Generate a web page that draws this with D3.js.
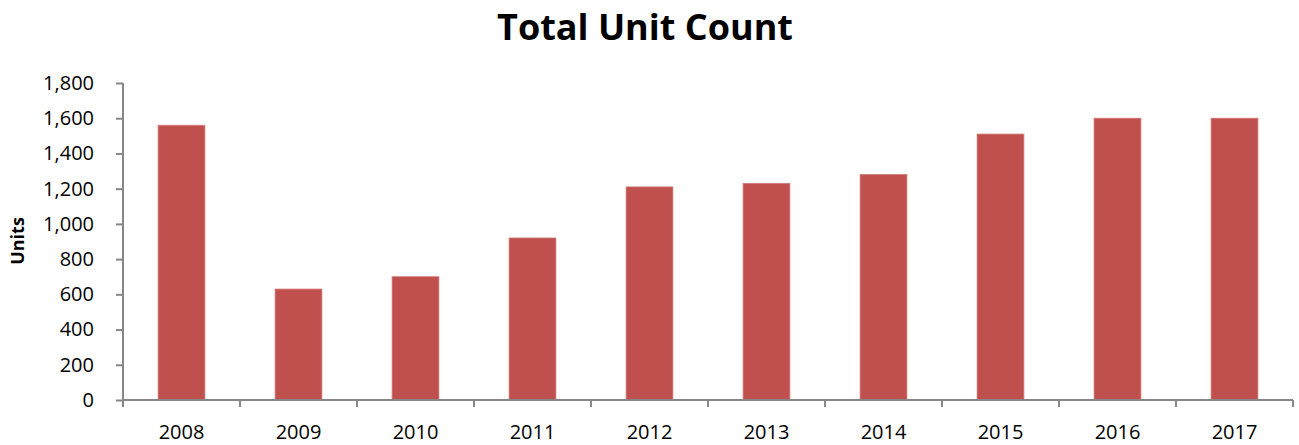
<!DOCTYPE html>
<html>
<head>
<meta charset="utf-8">
<script src="https://cdn.jsdelivr.net/npm/d3@7"></script>
<style>
  body { margin: 0; background: #fff; }
  svg text { font-family: "Open Sans", "Noto Sans", sans-serif; fill: #000; }
</style>
</head>
<body>
<div id="chart"></div>
<script>
var years = ["2008", "2009", "2010", "2011", "2012", "2013", "2014", "2015", "2016", "2017"];
var units = [1560, 630, 700, 920, 1210, 1230, 1280, 1510, 1600, 1600];
var yTicks = [0, 200, 400, 600, 800, 1000, 1200, 1400, 1600, 1800];

var width = 1299, height = 445;
var margin = {top: 83, right: 6, bottom: 45, left: 123};

var svg = d3.select("#chart").append("svg")
    .attr("width", width)
    .attr("height", height);

var x = d3.scaleBand()
    .domain(years)
    .range([margin.left, width - margin.right])
    .paddingInner(0.6)
    .paddingOuter(0.3);

var y = d3.scaleLinear()
    .domain([0, 1800])
    .range([height - margin.bottom, margin.top]);

// title
svg.append("text")
    .attr("x", 645)
    .attr("y", 40)
    .attr("text-anchor", "middle")
    .style("font-size", "36px")
    .style("font-weight", "bold")
    .text("Total Unit Count");

// y label
svg.append("text")
    .attr("transform", "translate(24," + 241 + ") rotate(-90)")
    .attr("text-anchor", "middle")
    .style("font-size", "18px")
    .style("font-weight", "bold")
    .text("Units");

// bars
svg.selectAll("rect.bar")
    .data(units)
    .enter().append("rect")
    .attr("class", "bar")
    .attr("x", function(d, i) { return x(years[i]); })
    .attr("y", function(d) { return y(d); })
    .attr("width", x.bandwidth())
    .attr("height", function(d) { return y(0) - y(d); })
    .attr("fill", "#C0504D")
    .attr("stroke", "#CF7A77")
    .attr("stroke-width", 0.8);

// y axis
var yAxis = svg.append("g")
    .attr("transform", "translate(" + margin.left + ",0)")
    .call(d3.axisLeft(y).tickValues(yTicks).tickSize(7).tickPadding(22)
        .tickFormat(d3.format(",")));
yAxis.selectAll("text").style("font-size", "20px");

// x axis, ticks sit on the category boundaries
var xAxisG = svg.append("g")
    .attr("transform", "translate(0," + y(0) + ")");
xAxisG.append("line")
    .attr("x1", margin.left).attr("x2", width - margin.right)
    .attr("y1", 0).attr("y2", 0);
var edges = d3.range(years.length + 1).map(function(i) {
    return margin.left + i * (width - margin.right - margin.left) / years.length;
});
xAxisG.selectAll("line.tick")
    .data(edges)
    .enter().append("line")
    .attr("class", "tick")
    .attr("x1", function(d) { return d; }).attr("x2", function(d) { return d; })
    .attr("y1", 0).attr("y2", 7);
xAxisG.selectAll("text")
    .data(years)
    .enter().append("text")
    .attr("x", function(d) { return x(d) + x.bandwidth() / 2; })
    .attr("y", 39)
    .attr("text-anchor", "middle")
    .style("font-size", "20px")
    .text(function(d) { return d; });

svg.selectAll("g line, g path.domain")
    .attr("stroke", "#868686")
    .attr("stroke-width", 2);
yAxis.select("path.domain").attr("d", "M0," + y(1800) + "V" + y(0));
</script>
</body>
</html>
